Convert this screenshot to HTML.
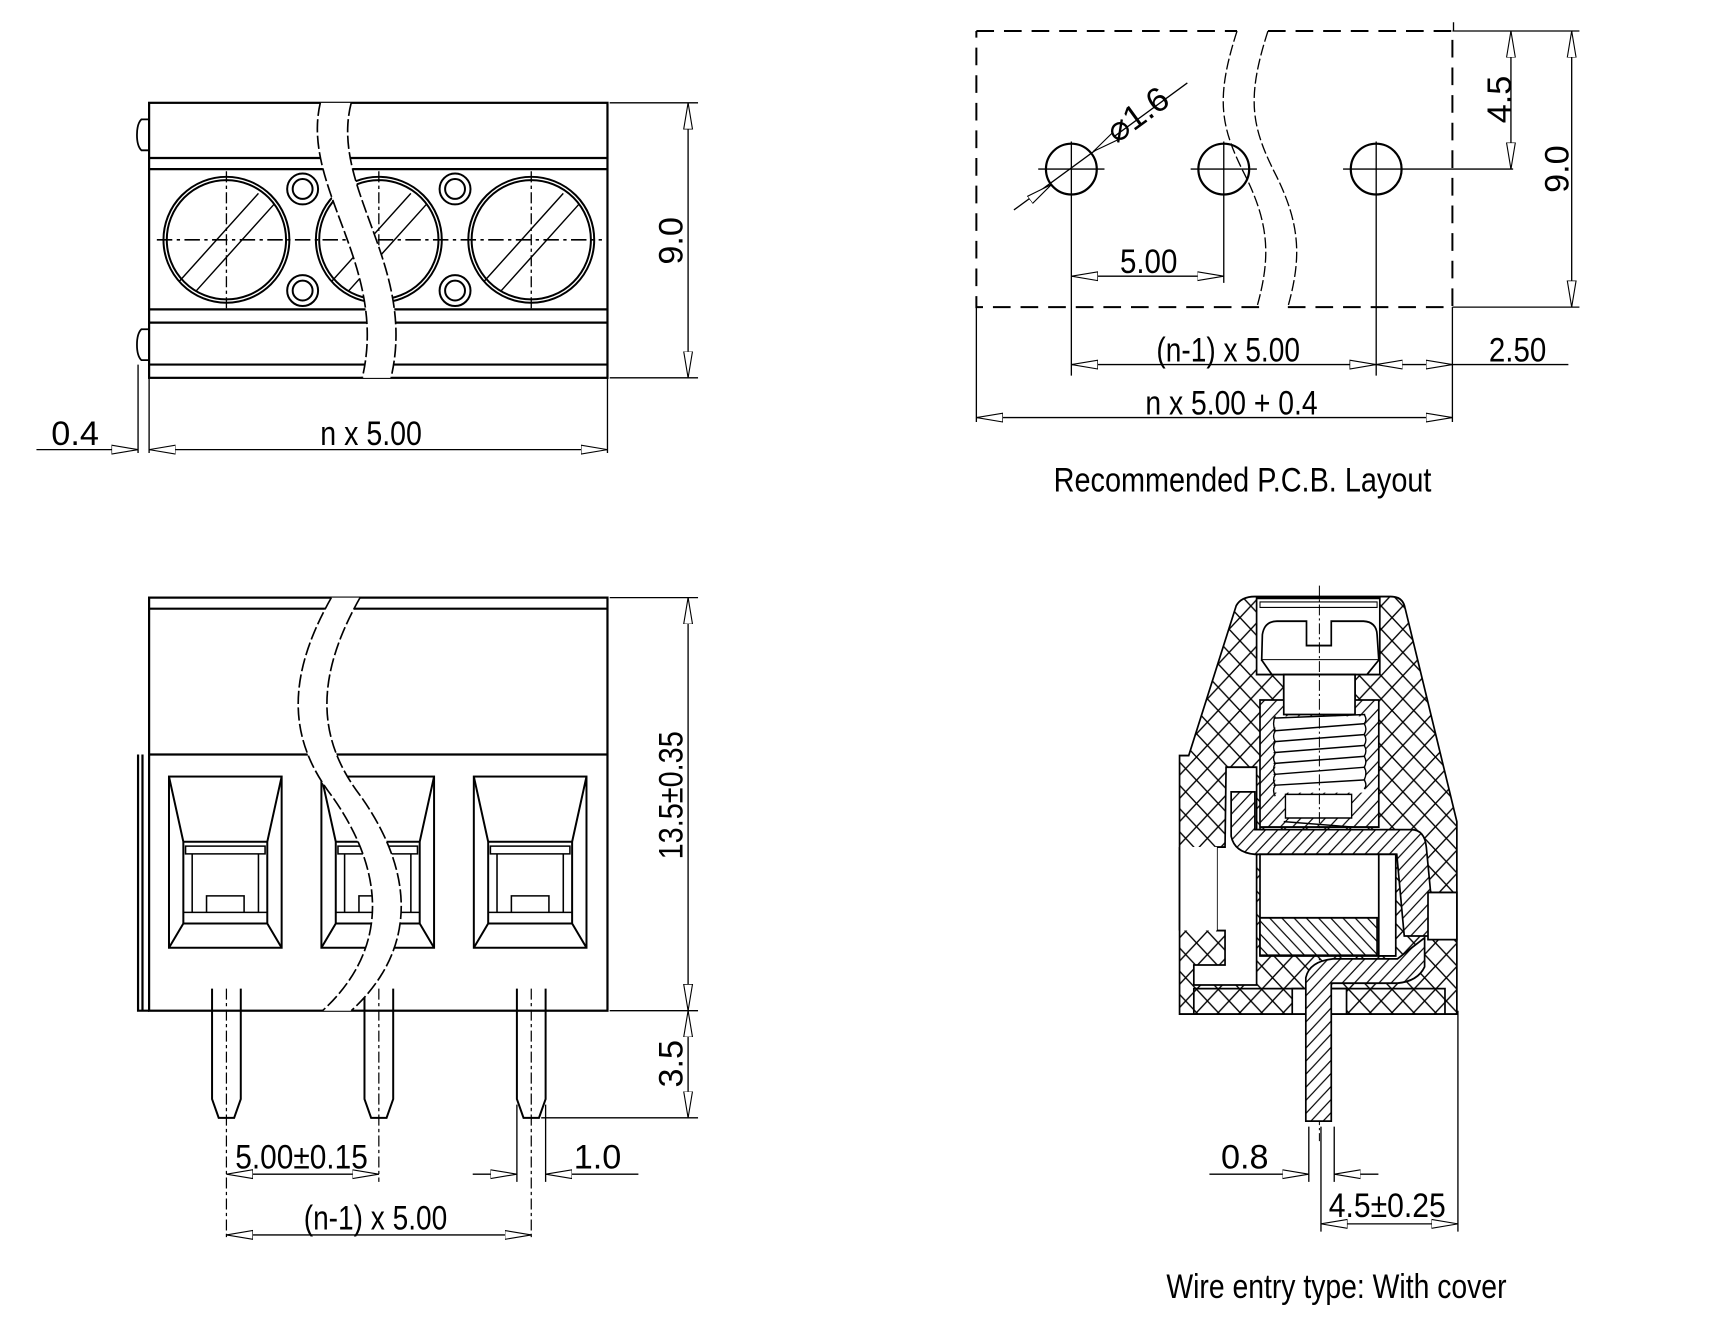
<!DOCTYPE html>
<html><head><meta charset="utf-8"><style>
html,body{margin:0;padding:0;background:#fff}
svg{display:block}
text{font-family:"Liberation Sans Narrow","Liberation Sans",sans-serif;fill:#000}
</style></head><body>
<svg width="1723" height="1330" viewBox="0 0 1560 1204" xmlns="http://www.w3.org/2000/svg">
<defs>
<marker id="a" viewBox="0 0 24 10" refX="24" refY="5" markerWidth="24" markerHeight="10" markerUnits="userSpaceOnUse" orient="auto-start-reverse">
<path d="M0,1 L24,5 L0,9 Z" fill="#fff" stroke="#000" stroke-width="1"/></marker>
<pattern id="xh" width="64" height="64" patternUnits="userSpaceOnUse">
<rect width="64" height="64" fill="#fff"/>
<path d="M-10,10 L10,-10 M0,64 L64,0 M54,74 L74,54 M-10,54 L10,74 M0,0 L64,64 M54,-10 L74,10" stroke="#000" stroke-width="4"/></pattern>
<pattern id="dh" width="36" height="36" patternUnits="userSpaceOnUse">
<rect width="36" height="36" fill="#fff"/>
<path d="M-5,5 L5,-5 M0,36 L36,0 M31,41 L41,31" stroke="#000" stroke-width="3.5"/></pattern>
<pattern id="dh2" width="36" height="36" patternUnits="userSpaceOnUse">
<rect width="36" height="36" fill="#fff"/>
<path d="M-5,31 L5,41 M0,0 L36,36 M31,-5 L41,5" stroke="#000" stroke-width="3.5"/></pattern>
</defs>

<g fill="none" stroke="#000" stroke-width="2">
<!-- ===== TOP LEFT ===== -->
<rect x="135" y="93" width="415" height="249"/>
<path d="M135,143H550M135,153H550M135,280H550M135,292H550M135,330H550"/>
<path d="M135,108 H128 Q124,112 124,122 Q124,132 128,136 H135 M135,298 H128 Q124,302 124,312 Q124,322 128,326 H135" stroke-width="1.6"/>
<g stroke-width="1.8">
<circle cx="205" cy="217" r="57"/><circle cx="205" cy="217" r="54"/>
<circle cx="343" cy="217" r="57"/><circle cx="343" cy="217" r="54"/>
<circle cx="481" cy="217" r="57"/><circle cx="481" cy="217" r="54"/>
<circle cx="274" cy="171" r="14"/><circle cx="274" cy="171" r="9"/>
<circle cx="274" cy="263" r="14"/><circle cx="274" cy="263" r="9"/>
<circle cx="412" cy="171" r="14"/><circle cx="412" cy="171" r="9"/>
<circle cx="412" cy="263" r="14"/><circle cx="412" cy="263" r="9"/>
</g>
<g stroke-width="1.3">
<path d="M162,255 L234,175 M177,264 L248,185"/>
<path d="M300,255 L372,175 M315,264 L386,185"/>
<path d="M438,255 L510,175 M453,264 L524,185"/>
</g>
<path d="M142,217H545" stroke-width="1.5" stroke-dasharray="14,4,3,4"/>
<path d="M205,155V280M343,155V280M481,155V280" stroke-width="1.2" stroke-dasharray="10,3,3,3"/>
<path d="M290,93 C272,170 352,240 328,342 L354,342 C378,240 298,170 318,93 Z" fill="#fff" stroke="none"/>
<path d="M290,93 C272,170 352,240 328,342 M318,93 C298,170 378,240 354,342" stroke-width="1.5" stroke-dasharray="12,3"/>
<g stroke-width="1.2">
<path d="M552,93H632M552,342H632"/>
<path d="M623,93V342" marker-start="url(#a)" marker-end="url(#a)"/>
<path d="M125,330V410M135,342V410M550,342V410"/>
<path d="M135,407H550" marker-start="url(#a)" marker-end="url(#a)"/>
<path d="M33,407H125" marker-end="url(#a)"/>
</g>

<!-- ===== TOP RIGHT ===== -->
<path d="M884,28H1120M1148,28H1315V278H1160M1140,278H884V28" stroke-width="1.8" stroke-dasharray="16,9"/>
<path d="M1120,28 C1100,90 1105,115 1128,160 C1150,205 1150,235 1138,278 M1148,28 C1128,90 1133,115 1156,160 C1178,205 1178,235 1166,278" stroke-width="1.2" stroke-dasharray="10,3"/>
<circle cx="970" cy="153" r="23"/><circle cx="1108" cy="153" r="23"/><circle cx="1246" cy="153" r="23"/>
<g stroke-width="1.2">
<path d="M940,153H1000M1078,153H1138M1216,153H1276M1276,153H1370"/>
<path d="M970,128V340M1108,128V256M1246,128V340"/>
<path d="M1315,278V382M884,278V382M1315,28H1430M1315,278H1430M1316,20V28"/>
<path d="M918,190 L1075,75"/>
<path d="M945,172 L952,167" marker-end="url(#a)"/>
<path d="M1000,130 L990,137" marker-end="url(#a)"/>
<path d="M970,250H1108" marker-start="url(#a)" marker-end="url(#a)"/>
<path d="M970,330H1246" marker-start="url(#a)" marker-end="url(#a)"/>
<path d="M1246,330H1315" marker-start="url(#a)" marker-end="url(#a)"/>
<path d="M1315,330H1420"/>
<path d="M884,378H1315" marker-start="url(#a)" marker-end="url(#a)"/>
<path d="M1368,28V153" marker-start="url(#a)" marker-end="url(#a)"/>
<path d="M1423,28V278" marker-start="url(#a)" marker-end="url(#a)"/>
</g>

<!-- ===== BOTTOM LEFT ===== -->
<rect x="135" y="541" width="415" height="374"/>
<path d="M135,551H550M135,683H550M125,683V915H135M129,683V915"/>
<g stroke-width="1.8">
<g id="w">
<rect x="153" y="703" width="102" height="155"/>
<path d="M153,703 L166,762 H242 L255,703 M166,762V836H242V762 M153,858 L166,836 M255,858 L242,836"/>
<path d="M168,766H240V773H168Z M174,773V826M234,773V826 M166,826H242 M187,826V811H221V826" stroke-width="1.4"/>
</g>
<use href="#w" x="138"/><use href="#w" x="276"/>
</g>
<g stroke-width="1.8">
<path id="p" d="M192,895V995L198,1012H212L218,995V895"/>
<use href="#p" x="138"/><use href="#p" x="276"/>
</g>
<path d="M205,895V1120M343,895V1070M481,895V1120" stroke-width="1.1" stroke-dasharray="10,3,3,3"/>
<path d="M300,541 C258,615 262,670 300,720 C350,790 352,860 292,915 L318,915 C378,860 376,790 326,720 C288,670 284,615 326,541 Z" fill="#fff" stroke="none"/>
<path d="M300,541 C258,615 262,670 300,720 C350,790 352,860 292,915 M326,541 C284,615 288,670 326,720 C376,790 378,860 318,915" stroke-width="1.5" stroke-dasharray="12,3"/>
<g stroke-width="1.2">
<path d="M552,541H632M552,915H632M490,1012H632"/>
<path d="M623,541V915" marker-start="url(#a)" marker-end="url(#a)"/>
<path d="M623,915V1012" marker-start="url(#a)" marker-end="url(#a)"/>
<path d="M205,1063H343" marker-start="url(#a)" marker-end="url(#a)"/>
<path d="M428,1063H468" marker-end="url(#a)"/>
<path d="M578,1063H494" marker-end="url(#a)"/>
<path d="M468,1000V1070M494,1000V1070"/>
<path d="M205,1118H481" marker-start="url(#a)" marker-end="url(#a)"/>
</g>

<!-- ===== BOTTOM RIGHT (section) ===== -->
<g transform="translate(1044,517) scale(0.3073,0.3287)" stroke-width="5">
<path d="M245,95 Q260,70 300,70 H700 Q735,70 742,100 L895,690 V1220 H78 V508 H105 Z" fill="url(#xh)"/>
<path d="M305,75 H668 V285 H595 V395 H385 V285 H305 Z" fill="#fff"/>
<path d="M315,85 H660 V100 H315 Z" fill="#fff" stroke-width="3"/>
<path d="M320,245 L322,175 Q328,138 365,138 H452 V205 H525 V138 H620 Q658,140 660,175 L665,245 Z" fill="#fff"/>
<path d="M320,245 L350,285 H630 L665,245" fill="#fff"/>
<path d="M315,355 H665 V705 H315 Z" fill="url(#dh)"/>
<path d="M385,285 H595 V395 H385 Z" fill="#fff"/>
<path d="M360,400 H625 L625,610 H360 Z" fill="#fff" stroke="none"/>
<path d="M355,405 L625,395 M355,440 L625,420 M355,470 L625,450 M355,500 L625,480 M355,530 L625,510 M355,560 L625,540 M355,590 L625,575 M385,690 L590,705" stroke-width="4"/>
<path d="M360,400 Q350,420 360,440 Q350,455 360,470 Q350,485 360,500 Q350,515 360,530 Q350,545 360,560 Q350,575 360,590 Q350,605 360,620" stroke-width="4"/>
<path d="M622,395 Q632,410 622,420 Q632,435 622,450 Q632,465 622,480 Q632,495 622,510 Q632,525 622,540 Q632,555 622,575 Q632,590 622,600" stroke-width="4"/>
<path d="M390,615 H585 V680 H390 Z" fill="#fff" stroke-width="4"/>
<path d="M490,40 V1570" stroke-width="3" stroke-dasharray="30,8,6,8"/>
<path d="M215,540 H305 V1140 H120 V1085 H212 V990 H188 V760 H212 Z" fill="#fff"/>
<path d="M78,760 H188 V990 H78 Z" fill="#fff" stroke="none"/>
<path d="M78,760 V990" />
<path d="M230,608 H300 V712 H760 Q800,712 805,760 L830,1005 H740 L718,780 H300 Q240,775 230,730 Z" fill="url(#dh)"/>
<path d="M315,780 H665 V1060 H315 Z" fill="#fff"/>
<path d="M315,955 H660 V1058 H315 Z" fill="url(#dh2)"/>
<path d="M665,780 H715 V1060 H665 Z" fill="#fff"/>
<path d="M810,885 H895 V1015 H810 Z" fill="#fff"/>
<path d="M120,1150 H860 V1220 H120 Z" fill="url(#xh)"/>
<path d="M410,1150 H570 V1220 H410 Z" fill="#fff"/>
<path d="M450,1515 V1120 Q460,1075 530,1068 H720 L800,1010 V1090 Q780,1130 720,1135 H525 V1515 Z" fill="url(#dh)"/>
</g>
<g stroke-width="1.2">
<path d="M1185,1020V1070M1208,1020V1070M1196,1020V1115M1320,915V1115"/>
<path d="M1095,1063H1185" marker-end="url(#a)"/>
<path d="M1248,1063H1208" marker-end="url(#a)"/>
<path d="M1196,1108H1320" marker-start="url(#a)" marker-end="url(#a)"/>
</g>
</g>

<!-- TEXT -->
<g font-size="31">
<text x="68" y="403" text-anchor="middle">0.4</text>
<text x="336" y="403" text-anchor="middle" textLength="92" lengthAdjust="spacingAndGlyphs">n x 5.00</text>
<text transform="translate(618,218) rotate(-90)" text-anchor="middle">9.0</text>
<text transform="translate(1036,112) rotate(-36)" text-anchor="middle" fill="#444">⌀1.6</text>
<text x="1040" y="247" text-anchor="middle" textLength="52" lengthAdjust="spacingAndGlyphs">5.00</text>
<text x="1112" y="327" text-anchor="middle" textLength="130" lengthAdjust="spacingAndGlyphs">(n-1) x 5.00</text>
<text x="1374" y="327" text-anchor="middle" textLength="52" lengthAdjust="spacingAndGlyphs">2.50</text>
<text x="1115" y="375" text-anchor="middle" textLength="156" lengthAdjust="spacingAndGlyphs">n x 5.00 + 0.4</text>
<text transform="translate(1368,90) rotate(-90)" text-anchor="middle">4.5</text>
<text transform="translate(1420,153) rotate(-90)" text-anchor="middle">9.0</text>
<text x="1125" y="445" text-anchor="middle" textLength="342" lengthAdjust="spacingAndGlyphs">Recommended P.C.B. Layout</text>
<text transform="translate(618,720) rotate(-90)" text-anchor="middle" textLength="116" lengthAdjust="spacingAndGlyphs">13.5±0.35</text>
<text transform="translate(618,963) rotate(-90)" text-anchor="middle">3.5</text>
<text x="273" y="1058" text-anchor="middle" textLength="120" lengthAdjust="spacingAndGlyphs">5.00±0.15</text>
<text x="541" y="1058" text-anchor="middle">1.0</text>
<text x="340" y="1113" text-anchor="middle" textLength="130" lengthAdjust="spacingAndGlyphs">(n-1) x 5.00</text>
<text x="1127" y="1058" text-anchor="middle">0.8</text>
<text x="1256" y="1102" text-anchor="middle" textLength="106" lengthAdjust="spacingAndGlyphs">4.5±0.25</text>
<text x="1210" y="1175" text-anchor="middle" textLength="308" lengthAdjust="spacingAndGlyphs">Wire entry type: With cover</text>
</g>
</svg>
</body></html>
